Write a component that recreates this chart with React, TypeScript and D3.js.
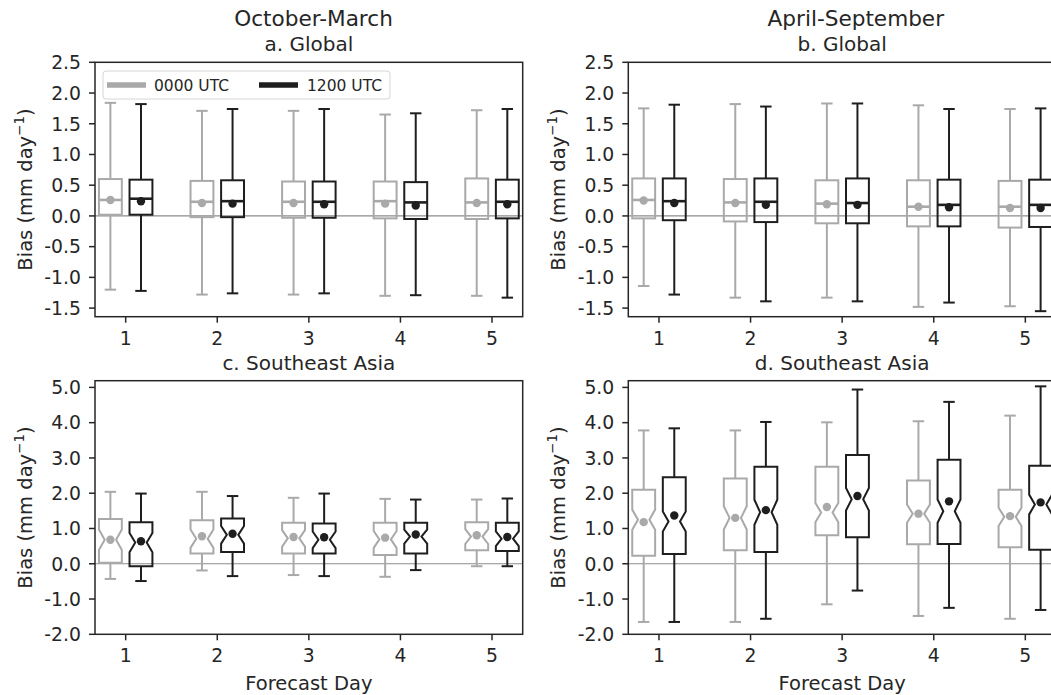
import React, { useRef, useEffect } from "react";
import * as d3 from "d3";

const days = [1, 2, 3, 4, 5];
const seriesNames = ["0000 UTC", "1200 UTC"];
const seriesColors = ["#a9a9a9", "#1e1e1e"];
const yTicksGlobal = [-1.5, -1.0, -0.5, 0.0, 0.5, 1.0, 1.5, 2.0, 2.5];
const yTicksSea = [-2, -1, 0, 1, 2, 3, 4, 5];

// each row: [whisker low, q1, median, q3, whisker high, mean]
const globalOctMar00 = [
  [-1.2, 0.02, 0.26, 0.6, 1.84, 0.26],
  [-1.28, -0.02, 0.23, 0.57, 1.71, 0.21],
  [-1.28, -0.03, 0.23, 0.56, 1.71, 0.21],
  [-1.3, -0.04, 0.24, 0.56, 1.65, 0.2],
  [-1.3, -0.05, 0.22, 0.61, 1.72, 0.21],
];
const globalOctMar12 = [
  [-1.22, 0.02, 0.28, 0.59, 1.82, 0.24],
  [-1.26, -0.02, 0.24, 0.58, 1.74, 0.2],
  [-1.26, -0.03, 0.23, 0.56, 1.74, 0.19],
  [-1.29, -0.05, 0.22, 0.55, 1.67, 0.17],
  [-1.33, -0.04, 0.23, 0.59, 1.74, 0.19],
];
const globalAprSep00 = [
  [-1.14, -0.04, 0.26, 0.61, 1.75, 0.25],
  [-1.33, -0.09, 0.22, 0.6, 1.82, 0.21],
  [-1.33, -0.12, 0.2, 0.58, 1.83, 0.19],
  [-1.48, -0.17, 0.15, 0.58, 1.8, 0.15],
  [-1.47, -0.19, 0.15, 0.57, 1.74, 0.13],
];
const globalAprSep12 = [
  [-1.28, -0.07, 0.24, 0.61, 1.81, 0.21],
  [-1.39, -0.1, 0.23, 0.61, 1.78, 0.18],
  [-1.39, -0.12, 0.21, 0.61, 1.83, 0.18],
  [-1.41, -0.17, 0.18, 0.59, 1.74, 0.14],
  [-1.55, -0.18, 0.18, 0.59, 1.75, 0.13],
];
const seaOctMar00 = [
  [-0.43, 0.03, 0.68, 1.27, 2.04, 0.68],
  [-0.19, 0.29, 0.71, 1.23, 2.04, 0.78],
  [-0.32, 0.29, 0.72, 1.16, 1.87, 0.76],
  [-0.37, 0.25, 0.69, 1.16, 1.84, 0.74],
  [-0.07, 0.38, 0.77, 1.18, 1.82, 0.81],
];
const seaOctMar12 = [
  [-0.49, -0.07, 0.6, 1.18, 1.99, 0.64],
  [-0.35, 0.33, 0.82, 1.28, 1.92, 0.85],
  [-0.35, 0.29, 0.68, 1.14, 1.99, 0.75],
  [-0.18, 0.29, 0.77, 1.16, 1.82, 0.83],
  [-0.07, 0.36, 0.71, 1.16, 1.85, 0.76],
];
const seaAprSep00 = [
  [-1.65, 0.23, 1.25, 2.1, 3.78, 1.18],
  [-1.65, 0.38, 1.3, 2.42, 3.78, 1.3],
  [-1.15, 0.81, 1.45, 2.75, 4.01, 1.61],
  [-1.48, 0.55, 1.42, 2.36, 4.04, 1.42],
  [-1.56, 0.47, 1.33, 2.1, 4.2, 1.35],
];
const seaAprSep12 = [
  [-1.65, 0.28, 1.2, 2.45, 3.84, 1.37],
  [-1.56, 0.33, 1.46, 2.75, 4.02, 1.52],
  [-0.76, 0.75, 1.83, 3.08, 4.94, 1.92],
  [-1.25, 0.56, 1.49, 2.95, 4.59, 1.77],
  [-1.31, 0.4, 1.68, 2.78, 5.03, 1.74],
];
// half height of the notch around the median
const notchOctMar00 = [0.29, 0.26, 0.235, 0.24, 0.21];
const notchOctMar12 = [0.275, 0.25, 0.235, 0.2, 0.21];
const notchAprSep00 = [0.285, 0.33, 0.275, 0.26, 0.26];
const notchAprSep12 = [0.285, 0.355, 0.32, 0.33, 0.28];

const font = "DejaVu Sans, sans-serif";
const textColor = "#262626";

const App = () => {
  const ref = useRef<HTMLDivElement>(null);

  useEffect(() => {
    const width = 1051;
    const height = 695;
    d3.select(ref.current).selectAll("*").remove();
    const svg = d3
      .select(ref.current)
      .append("svg")
      .attr("width", width)
      .attr("height", height)
      .style("display", "block")
      .style("font-family", font);

    const panelW = 427.7;
    const panels = [
      { left: 95, top: 62.3, bottom: 316.7, yDomain: [-1.64, 2.5], ticks: yTicksGlobal, fmt: 1,
        data: [globalOctMar00, globalOctMar12], notch: null, sub: "a. Global",
        title: "October-March", titleX: 313.5, legend: true, xlabel: false },
      { left: 628.3, top: 62.3, bottom: 316.7, yDomain: [-1.64, 2.5], ticks: yTicksGlobal, fmt: 1,
        data: [globalAprSep00, globalAprSep12], notch: null, sub: "b. Global",
        title: "April-September", titleX: 855.8, legend: false, xlabel: false },
      { left: 95, top: 380.7, bottom: 634.3, yDomain: [-2, 5.19], ticks: yTicksSea, fmt: 1,
        data: [seaOctMar00, seaOctMar12], notch: [notchOctMar00, notchOctMar12],
        sub: "c. Southeast Asia", title: null, titleX: 0, legend: false, xlabel: true },
      { left: 628.3, top: 380.7, bottom: 634.3, yDomain: [-2, 5.19], ticks: yTicksSea, fmt: 1,
        data: [seaAprSep00, seaAprSep12], notch: [notchAprSep00, notchAprSep12],
        sub: "d. Southeast Asia", title: null, titleX: 0, legend: false, xlabel: true },
    ];

    const offsets = [-0.167, 0.167];
    const boxW = 0.25;

    panels.forEach((p) => {
      const x = d3.scaleLinear().domain([0.665, 5.335]).range([p.left, p.left + panelW]);
      const y = d3.scaleLinear().domain(p.yDomain).range([p.bottom, p.top]);
      const g = svg.append("g");

      // zero line
      g.append("line")
        .attr("x1", p.left).attr("x2", p.left + panelW)
        .attr("y1", y(0)).attr("y2", y(0))
        .attr("stroke", "#8c8c8c").attr("stroke-width", 1.2);

      p.data.forEach((series, si) => {
        const color = seriesColors[si];
        series.forEach((d, i) => {
          const [lo, q1, med, q3, hi, mean] = d;
          const pos = days[i] + offsets[si];
          const bl = x(pos - boxW / 2);
          const br = x(pos + boxW / 2);
          const cl = x(pos - boxW / 4);
          const cr = x(pos + boxW / 4);
          const cx = x(pos);
          const bg = g.append("g").attr("stroke", color).attr("stroke-width", 2).attr("fill", "none");

          bg.append("line").attr("x1", cx).attr("x2", cx).attr("y1", y(q1)).attr("y2", y(lo));
          bg.append("line").attr("x1", cx).attr("x2", cx).attr("y1", y(q3)).attr("y2", y(hi));
          bg.append("line").attr("x1", cl).attr("x2", cr).attr("y1", y(lo)).attr("y2", y(lo));
          bg.append("line").attr("x1", cl).attr("x2", cr).attr("y1", y(hi)).attr("y2", y(hi));

          if (p.notch) {
            const n = p.notch[si][i];
            const pts: [number, number][] = [
              [bl, q1], [br, q1], [br, med - n], [cr, med], [br, med + n], [br, q3],
              [bl, q3], [bl, med + n], [cl, med], [bl, med - n], [bl, q1],
            ];
            const line = d3.line<[number, number]>().x((v) => v[0]).y((v) => y(v[1]));
            bg.append("path").attr("d", line(pts) + "Z").attr("stroke-linejoin", "miter");
          } else {
            bg.append("rect")
              .attr("x", bl).attr("y", y(q3))
              .attr("width", br - bl).attr("height", y(q1) - y(q3));
            bg.append("line").attr("x1", bl).attr("x2", br)
              .attr("y1", y(med)).attr("y2", y(med)).attr("stroke-width", 2.6);
          }

          g.append("circle").attr("cx", cx).attr("cy", y(mean)).attr("r", 4.2).attr("fill", color);
        });
      });

      // frame
      g.append("rect")
        .attr("x", p.left).attr("y", p.top)
        .attr("width", panelW).attr("height", p.bottom - p.top)
        .attr("fill", "none").attr("stroke", textColor).attr("stroke-width", 1.5);

      // x ticks
      days.forEach((d) => {
        g.append("line")
          .attr("x1", x(d)).attr("x2", x(d))
          .attr("y1", p.bottom).attr("y2", p.bottom + 6)
          .attr("stroke", textColor).attr("stroke-width", 1.5);
        g.append("text")
          .attr("x", x(d)).attr("y", p.bottom + 28)
          .attr("text-anchor", "middle").attr("font-size", 18.8).attr("fill", textColor)
          .text(d);
      });

      // y ticks
      p.ticks.forEach((t) => {
        g.append("line")
          .attr("x1", p.left - 6).attr("x2", p.left)
          .attr("y1", y(t)).attr("y2", y(t))
          .attr("stroke", textColor).attr("stroke-width", 1.5);
        g.append("text")
          .attr("x", p.left - 14).attr("y", y(t)).attr("dy", "0.36em")
          .attr("text-anchor", "end").attr("font-size", 18.8).attr("fill", textColor)
          .text(t.toFixed(p.fmt));
      });

      // y label
      const midY = (p.top + p.bottom) / 2;
      const yl = g.append("text")
        .attr("transform", `translate(${p.left - 63}, ${midY}) rotate(-90)`)
        .attr("text-anchor", "middle").attr("font-size", 19.5).attr("fill", textColor);
      yl.append("tspan").text("Bias (mm day");
      yl.append("tspan").attr("dy", -8).attr("font-size", 13.5).text("\u22121");
      yl.append("tspan").attr("dy", 8).text(")");

      // subtitle and title
      const midX = p.left + panelW / 2;
      g.append("text")
        .attr("x", midX).attr("y", p.top - 11)
        .attr("text-anchor", "middle").attr("font-size", 20).attr("fill", textColor)
        .text(p.sub);
      if (p.title) {
        g.append("text")
          .attr("x", p.titleX).attr("y", p.top - 36)
          .attr("text-anchor", "middle").attr("font-size", 21.6).attr("fill", textColor)
          .text(p.title);
      }
      if (p.xlabel) {
        g.append("text")
          .attr("x", midX).attr("y", 690)
          .attr("text-anchor", "middle").attr("font-size", 19.5).attr("fill", textColor)
          .text("Forecast Day");
      }

      if (p.legend) {
        const lg = g.append("g");
        lg.append("rect")
          .attr("x", 103).attr("y", 71).attr("width", 287).attr("height", 28).attr("rx", 3)
          .attr("fill", "white").attr("fill-opacity", 0.8)
          .attr("stroke", "#d6d6d6").attr("stroke-width", 1);
        const items = [
          { x: 107, tx: 154 },
          { x: 259, tx: 307 },
        ];
        items.forEach((it, k) => {
          lg.append("line")
            .attr("x1", it.x).attr("x2", it.x + 39).attr("y1", 85).attr("y2", 85)
            .attr("stroke", seriesColors[k]).attr("stroke-width", 5.5);
          lg.append("text")
            .attr("x", it.tx).attr("y", 90.5)
            .attr("font-size", 15.5).attr("fill", textColor)
            .text(seriesNames[k]);
        });
      }
    });
  }, []);

  return (
    <div style={{ position: "absolute", left: 0, top: 0 }}>
      <div ref={ref}></div>
    </div>
  );
};

export default App;
